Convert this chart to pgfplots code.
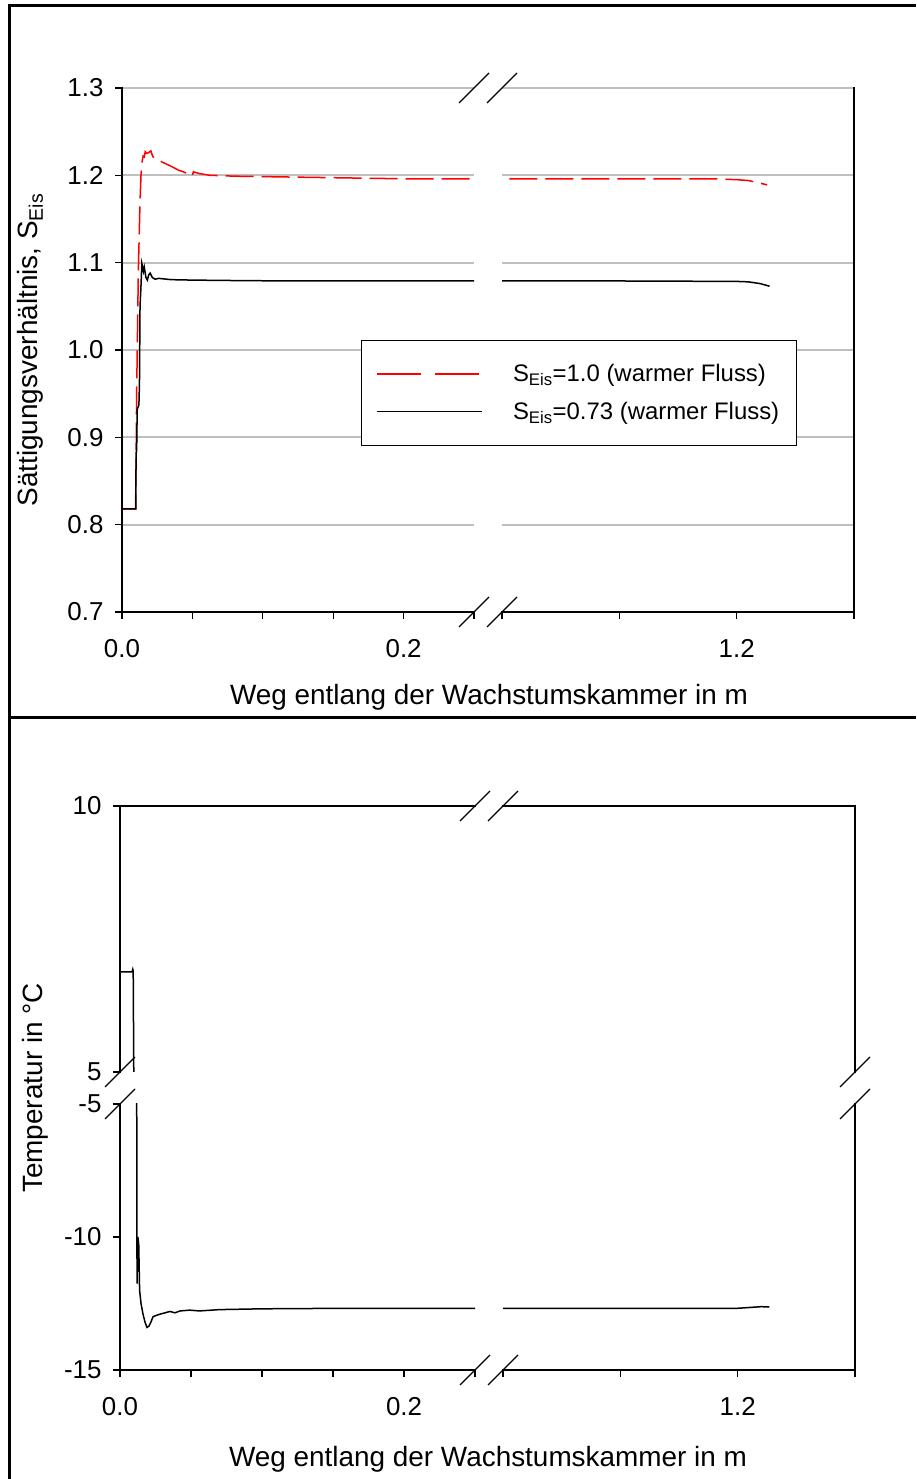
\documentclass[border=0pt]{standalone}
\usepackage{fontspec}
\setmainfont{Liberation Sans}
\usepackage{pgfplots}
\usepackage{pgfplotstable}
\pgfplotsset{compat=1.18}

% Saettigungsverhaeltnis, S_Eis=1.0 (x in m)
\pgfplotstableread{
x y
0 0.818
0.0096 0.818
0.0100 0.87
0.0104 0.95
0.0110 1.02
0.0116 1.09
0.0122 1.13
0.0128 1.17
0.0135 1.20
0.0142 1.215
0.0150 1.222
0.0158 1.221
0.0165 1.227
0.0175 1.225
0.0190 1.226
0.0205 1.228
0.0215 1.223
0.0225 1.220
0.0234 1.219
0.0300 1.214
0.0353 1.210
0.0400 1.206
0.0436 1.204
0.0490 1.200
0.0498 1.199
0.0507 1.204
0.0550 1.202
0.0625 1.200
0.0800 1.199
0.1200 1.198
0.1600 1.197
0.2000 1.196
0.2500 1.196
1.0000 1.196
1.1000 1.196
1.1800 1.196
1.2000 1.195
1.2100 1.194
1.2200 1.191
1.2260 1.189
}\satone

% S_Eis=0.73
\pgfplotstableread{
x y
0 0.818
0.0098 0.818
0.0100 0.882
0.0104 0.885
0.0108 0.932
0.0120 0.937
0.0124 0.960
0.0128 1.050
0.0134 1.070
0.0141 1.099
0.0146 1.095
0.0152 1.090
0.0158 1.095
0.0163 1.090
0.0170 1.083
0.0180 1.080
0.0190 1.086
0.0200 1.088
0.0215 1.083
0.0235 1.081
0.0260 1.082
0.0350 1.0805
0.0500 1.080
0.0800 1.0795
0.1200 1.079
0.2000 1.079
0.2500 1.079
1.0000 1.079
1.1000 1.079
1.2000 1.0785
1.2100 1.078
1.2200 1.076
1.2280 1.073
}\satseven

% Temperatur in C
\pgfplotstableread{
x y
0 6.88
0.0085 6.88
0.0090 6.93
0.0093 6.90
0.0096 5.5
0.0098 4.5
0.0118 -5.5
0.0120 -11.75
0.0126 -10.0
0.0132 -10.3
0.0138 -12.0
0.0148 -12.5
0.0162 -12.9
0.0176 -13.2
0.0190 -13.4
0.0204 -13.35
0.0218 -13.2
0.0232 -13.0
0.0254 -12.95
0.0282 -12.9
0.0317 -12.85
0.0352 -12.8
0.0387 -12.85
0.0423 -12.78
0.0490 -12.75
0.0560 -12.78
0.0700 -12.73
0.1000 -12.70
0.1600 -12.68
0.2500 -12.68
1.0000 -12.68
1.2000 -12.68
1.2200 -12.62
1.2270 -12.63
}\temp

\pgfplotsset{
  brk/.style={
    scale only axis, anchor=south west,
    tick align=outside, major tick length=7bp,
    axis line style={draw=none},
    tick style={black, line width=1.2bp},
    tick label style={font=\fontsize{26}{30}\selectfont},
    xticklabel style={yshift=-17bp},
    yticklabel style={xshift=-8bp},
    xtick pos=bottom, ytick pos=left,
  },
  redline/.style={red, line width=1.5bp, dash pattern=on 28bp off 8bp},
  blackline/.style={black, line width=1.5bp},
}
\tikzset{axl/.style={black, line width=1.5bp, line cap=rect}}
\newcommand{\brkmark}[2]{\draw[line width=1.2bp] (#1-15,#2-15) -- (#1+15,#2+15);}

\begin{document}
\begin{tikzpicture}[x=1bp,y=1bp]
\useasboundingbox (0,0) rectangle (916,1479);
\draw[line width=3bp] (9,0) -- (9,1473) -- (916,1473);
\draw[line width=3bp] (9,761) -- (916,761);

% oben links
\begin{axis}[brk, name=tl, at={(122bp,867bp)}, width=352bp, height=524bp,
  xmin=0, xmax=0.25, ymin=0.7, ymax=1.3,
  xtick={0,0.05,0.1,0.15,0.2,0.25}, xticklabels={0.0,,,,0.2,},
  ytick={0.7,0.8,0.9,1.0,1.1,1.2,1.3},
  yticklabels={0.7,0.8,0.9,1.0,1.1,1.2,1.3},
  ymajorgrids, major grid style={gray!50, line width=2bp}]
\addplot[redline] table {\satone};
\addplot[blackline] table {\satseven};
\end{axis}

% oben rechts
\begin{axis}[brk, name=tr, at={(502bp,867bp)}, width=352bp, height=524bp,
  xmin=1.0, xmax=1.3, ymin=0.7, ymax=1.3,
  ytick pos=right,
  xtick={1.0,1.1,1.2,1.3}, xticklabels={,,1.2,},
  ytick={0.7,0.8,0.9,1.0,1.1,1.2,1.3}, yticklabels={},
  ytick style={draw=none},
  ymajorgrids, major grid style={gray!50, line width=2bp},
  legend image code/.code={\draw[#1] (0bp,0bp) -- (105bp,0bp); \path (133bp,0bp);},
  legend style={at={(-0.4006,0.519)}, anchor=north west, draw=black,
    line width=1bp, fill=white, font=\fontsize{24}{28}\selectfont,
    inner xsep=15bp, inner ysep=22bp, row sep=15bp},
  legend cell align=left]
\addlegendimage{red, line width=1.5bp, dash pattern=on 44bp off 14bp}
\addlegendentry{S\textsubscript{Eis}=1.0 (warmer Fluss)}
\addlegendimage{black, line width=1.5bp}
\addlegendentry{S\textsubscript{Eis}=0.73 (warmer Fluss)}
\addplot[redline, forget plot] table {\satone};
\addplot[blackline, forget plot] table {\satseven};
\end{axis}

% unten, untere Haelfte links
\begin{axis}[brk, name=bl, at={(120bp,109bp)}, width=355bp, height=266bp,
  xmin=0, xmax=0.25, ymin=-15, ymax=-5,
  xtick={0,0.05,0.1,0.15,0.2,0.25}, xticklabels={0.0,,,,0.2,},
  ytick={-15,-10,-5}, yticklabels={-15,-10,-5}]
\addplot[blackline] table {\temp};
\end{axis}

% unten, obere Haelfte links
\begin{axis}[brk, name=ul, at={(120bp,407bp)}, width=355bp, height=266bp,
  xmin=0, xmax=0.25, ymin=5, ymax=10, xtick=\empty,
  ytick={5,10}, yticklabels={5,10}]
\addplot[blackline] table {\temp};
\end{axis}

% unten, obere Haelfte rechts
\begin{axis}[brk, name=ur, at={(503bp,407bp)}, width=352bp, height=266bp,
  xmin=1.0, xmax=1.3, ymin=5, ymax=10, xtick=\empty, ytick=\empty]
\addplot[blackline] table {\temp};
\end{axis}

% unten, untere Haelfte rechts
\begin{axis}[brk, name=br, at={(503bp,109bp)}, width=352bp, height=266bp,
  xmin=1.0, xmax=1.3, ymin=-15, ymax=-5, ytick=\empty,
  xtick={1.0,1.1,1.2,1.3}, xticklabels={,,1.2,}]
\addplot[blackline] table {\temp};
\end{axis}

% Achsenlinien
\draw[axl] (tl.north west) -- (tl.south west) -- (tl.south east);
\draw[axl] (tr.south west) -- (tr.south east) -- (tr.north east);
\draw[axl] (bl.north west) -- (bl.south west) -- (bl.south east);
\draw[axl] (ul.south west) -- (ul.north west) -- (ul.north east);
\draw[axl] (ur.north west) -- (ur.north east) -- (ur.south east);
\draw[axl] (br.south west) -- (br.south east) -- (br.north east);

% Achsenbrueche
\brkmark{474}{867}\brkmark{502}{867}\brkmark{474}{1391}\brkmark{502}{1391}
\brkmark{475}{109}\brkmark{503}{109}\brkmark{475}{673}\brkmark{503}{673}
\brkmark{120}{407}\brkmark{120}{375}\brkmark{855}{407}\brkmark{855}{375}

% Achsentitel
\node[font=\fontsize{28}{32}\selectfont] at (489,782) {Weg entlang der Wachstumskammer in m};
\node[font=\fontsize{28}{32}\selectfont, rotate=90] at (30,1129) {Sättigungsverhältnis, S\textsubscript{Eis}};
\node[font=\fontsize{28}{32}\selectfont] at (488,20) {Weg entlang der Wachstumskammer in m};
\node[font=\fontsize{28}{32}\selectfont, rotate=90] at (35,391) {Temperatur in °C};
\end{tikzpicture}
\end{document}
